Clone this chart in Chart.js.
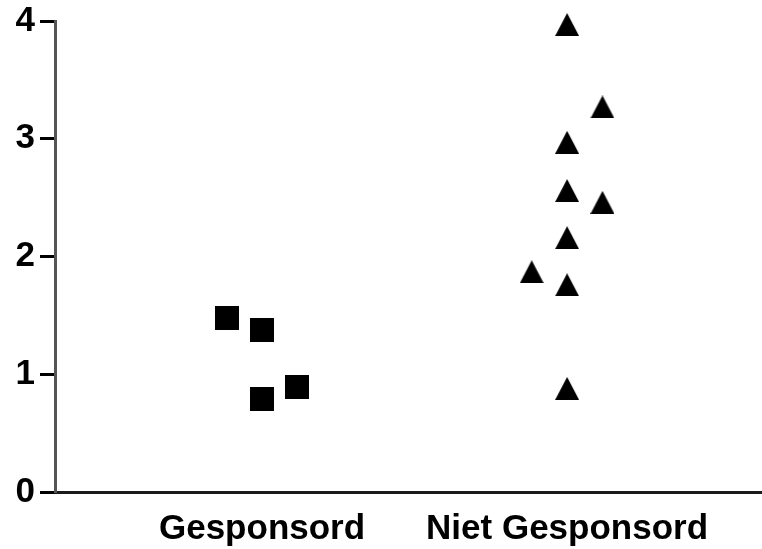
<!DOCTYPE html>
<html>
<head>
<meta charset="utf-8">
<script src="https://cdn.jsdelivr.net/npm/chart.js@4/dist/chart.umd.min.js"></script>
<style>
  html, body { margin: 0; padding: 0; background: #ffffff; overflow: hidden; }
  #wrap { width: 762px; height: 549px; position: relative; }
  canvas { display: block; }
</style>
</head>
<body>
<div id="wrap"><canvas id="c"></canvas></div>
<script>
// ---- data ----
const categories = ['Gesponsord', 'Niet Gesponsord'];
const yTicks = [0, 1, 2, 3, 4];
const gesponsordValues = [1.48, 1.38, 0.79, 0.89];
const gesponsordColumns = [-1, 0, 0, 1];      // jitter column inside the group
const nietValues = [3.97, 3.27, 2.97, 2.56, 2.46, 2.16, 1.87, 1.76, 0.88];
const nietColumns = [0, 1, 0, 0, 1, 0, -1, 0, 0];

// ---- styling ----
const JITTER = 0.116;
const FONT = { family: '"Liberation Sans", Arial, sans-serif', size: 35, weight: 'bold', lineHeight: 1.0 };

function makeSquare(size) {
  const c = document.createElement('canvas');
  c.width = size; c.height = size;
  const g = c.getContext('2d');
  g.fillStyle = '#000';
  g.fillRect(0, 0, size, size);
  return c;
}
function makeTriangle(w, h) {
  const c = document.createElement('canvas');
  c.width = w; c.height = h;
  const g = c.getContext('2d');
  g.fillStyle = '#000';
  g.beginPath();
  g.moveTo(w / 2, 0);
  g.lineTo(w, h);
  g.lineTo(0, h);
  g.closePath();
  g.fill();
  return c;
}

function points(groupIndex, values, columns) {
  return values.map((v, i) => ({ x: groupIndex + 1 + columns[i] * JITTER, y: v }));
}

new Chart(document.getElementById('c'), {
  type: 'scatter',
  data: {
    datasets: [
      {
        label: categories[0],
        data: points(0, gesponsordValues, gesponsordColumns),
        pointStyle: makeSquare(24),
        pointRadius: 12,
        backgroundColor: '#000',
        borderColor: '#000'
      },
      {
        label: categories[1],
        data: points(1, nietValues, nietColumns),
        pointStyle: makeTriangle(24, 23),
        pointRadius: 12,
        backgroundColor: '#000',
        borderColor: '#000'
      }
    ]
  },
  options: {
    responsive: true,
    maintainAspectRatio: false,
    animation: false,
    devicePixelRatio: 1,
    clip: false,
    layout: { autoPadding: false, padding: { left: 0, right: 0, top: 21, bottom: 0 } },
    plugins: { legend: { display: false }, tooltip: { enabled: false } },
    scales: {
      x: {
        type: 'linear',
        min: 0.3213,
        max: 2.639,
        afterBuildTicks: (scale) => { scale.ticks = categories.map((_, i) => ({ value: i + 1 })); },
        afterFit: (scale) => { scale.height = 57; scale.paddingLeft = 0; scale.paddingRight = 0; },
        ticks: {
          callback: (v) => categories[Math.round(v) - 1],
          color: '#000',
          font: FONT,
          padding: 20,
          maxRotation: 0,
          autoSkip: false
        },
        grid: { display: true, drawOnChartArea: false, drawTicks: false },
        border: { display: true, color: '#1a1a1a', width: 3 }
      },
      y: {
        type: 'linear',
        min: 0,
        max: 4,
        afterBuildTicks: (scale) => { scale.ticks = yTicks.map(v => ({ value: v })); },
        afterFit: (scale) => { scale.width = 55; scale.paddingTop = 0; scale.paddingBottom = 0; },
        ticks: {
          color: '#000',
          font: FONT,
          padding: 5
        },
        grid: { display: true, drawOnChartArea: false, drawTicks: true, tickLength: 15, tickWidth: 3, tickColor: '#000' },
        border: { display: true, color: '#555', width: 3 }
      }
    }
  }
});
</script>
</body>
</html>
